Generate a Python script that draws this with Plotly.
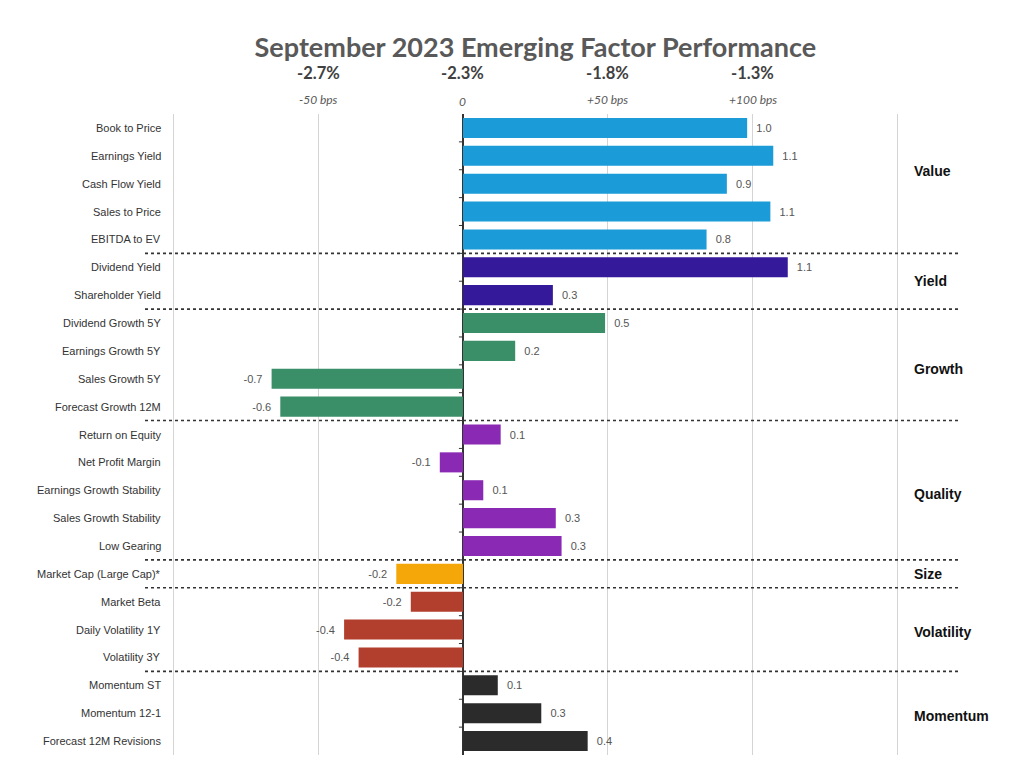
import plotly.graph_objects as go

factors = ["Book to Price", "Earnings Yield", "Cash Flow Yield", "Sales to Price", "EBITDA to EV",
           "Dividend Yield", "Shareholder Yield",
           "Dividend Growth 5Y", "Earnings Growth 5Y", "Sales Growth 5Y", "Forecast Growth 12M",
           "Return on Equity", "Net Profit Margin", "Earnings Growth Stability", "Sales Growth Stability", "Low Gearing",
           "Market Cap (Large Cap)*",
           "Market Beta", "Daily Volatility 1Y", "Volatility 3Y",
           "Momentum ST", "Momentum 12-1", "Forecast 12M Revisions"]
values = [0.98, 1.07, 0.91, 1.06, 0.84,
          1.12, 0.31,
          0.49, 0.18, -0.66, -0.63,
          0.13, -0.08, 0.07, 0.32, 0.34,
          -0.23,
          -0.18, -0.41, -0.36,
          0.12, 0.27, 0.43]
groups = ["Value"] * 5 + ["Yield"] * 2 + ["Growth"] * 4 + ["Quality"] * 5 + ["Size"] + ["Volatility"] * 3 + ["Momentum"] * 3
group_names = ["Value", "Yield", "Growth", "Quality", "Size", "Volatility", "Momentum"]
group_colors = ["#1b9bd7", "#35199b", "#3a8e68", "#8a2ab4", "#f5a70a", "#b23f2e", "#2b2b2b"]
group_label_pos = [1.55, 5.5, 8.65, 13.15, 16, 18.1, 21.1]

top_ticks = [-0.5, 0, 0.5, 1.0]
top_pct = ["-2.7%", "-2.3%", "-1.8%", "-1.3%"]
top_bps = ["-50 bps", "0", "+50 bps", "+100 bps"]
grid_ticks = [-1.0, -0.5, 0, 0.5, 1.0, 1.5]

color_map = dict(zip(group_names, group_colors))
bar_colors = [color_map[g] for g in groups]
labels = [(f"  {v:.1f}" if v >= 0 else f"{v:.1f}  ") for v in values]

fig = go.Figure()
fig.add_trace(go.Bar(
    y=factors, x=values, orientation="h",
    marker=dict(color=bar_colors, line=dict(width=0)),
    text=labels, textposition="outside",
    textfont=dict(family="Liberation Sans", size=11, color="#555555"),
    cliponaxis=False, hoverinfo="skip",
))

n = len(factors)
shapes = []
# dotted group separators
for i in range(1, n):
    if groups[i] != groups[i - 1]:
        shapes.append(dict(type="line", xref="paper", yref="y", x0=0, x1=1.0, y0=i - 0.5, y1=i - 0.5,
                           line=dict(color="#333333", width=1.6, dash="dot"), layer="above"))
# small ticks on zero line
for i in range(1, n):
    shapes.append(dict(type="line", xref="x", yref="y", x0=-0.014, x1=0, y0=i - 0.5, y1=i - 0.5,
                       line=dict(color="#333333", width=1)))

annotations = []
# category labels (drawn as annotations so they can sit inside the plot's left edge)
for i, f in enumerate(factors):
    annotations.append(dict(x=0.0221, xref="paper", xanchor="right", y=f, yref="y",
                            text=f, showarrow=False,
                            font=dict(family="Liberation Sans", size=11, color="#333333")))
for g, pos in zip(group_names, group_label_pos):
    annotations.append(dict(x=1.0, xref="paper", xanchor="left", xshift=-48, y=pos, yref="y",
                            text=f"<b>{g}</b>", showarrow=False,
                            font=dict(family="Liberation Sans", size=14, color="#111111")))
for t, p, b in zip(top_ticks, top_pct, top_bps):
    annotations.append(dict(x=t, xref="x", y=1.0, yref="paper", yshift=53, text=f"<b>{p}</b>",
                            showarrow=False, font=dict(family="Lato", size=16.5, color="#404040")))
    annotations.append(dict(x=t, xref="x", y=1.0, yref="paper", yshift=24 if b != "0" else 22,
                            text=f"<i>{b}</i>", showarrow=False,
                            font=dict(family="Lato", size=12, color="#595959")))

fig.update_layout(
    width=1024, height=782,
    margin=dict(l=137, r=72, t=106, b=35),
    paper_bgcolor="white", plot_bgcolor="white",
    title=dict(text="<b>September 2023 Emerging Factor Performance</b>", x=0.515, xanchor="center",
               y=0.949, yanchor="middle", font=dict(family="Lato", size=27, color="#595959")),
    showlegend=False, bargap=0.28,
    xaxis=dict(range=[-1.0966, 1.714], tickvals=grid_ticks, showticklabels=False,
               showgrid=True, gridcolor="#d4d4d4", gridwidth=1,
               zeroline=True, zerolinecolor="#333333", zerolinewidth=1.5, fixedrange=True),
    yaxis=dict(categoryorder="array", categoryarray=factors, autorange="reversed",
               showgrid=False, zeroline=False, ticks="", showticklabels=False),
    shapes=shapes, annotations=annotations,
)

fig.write_html("out.html")
